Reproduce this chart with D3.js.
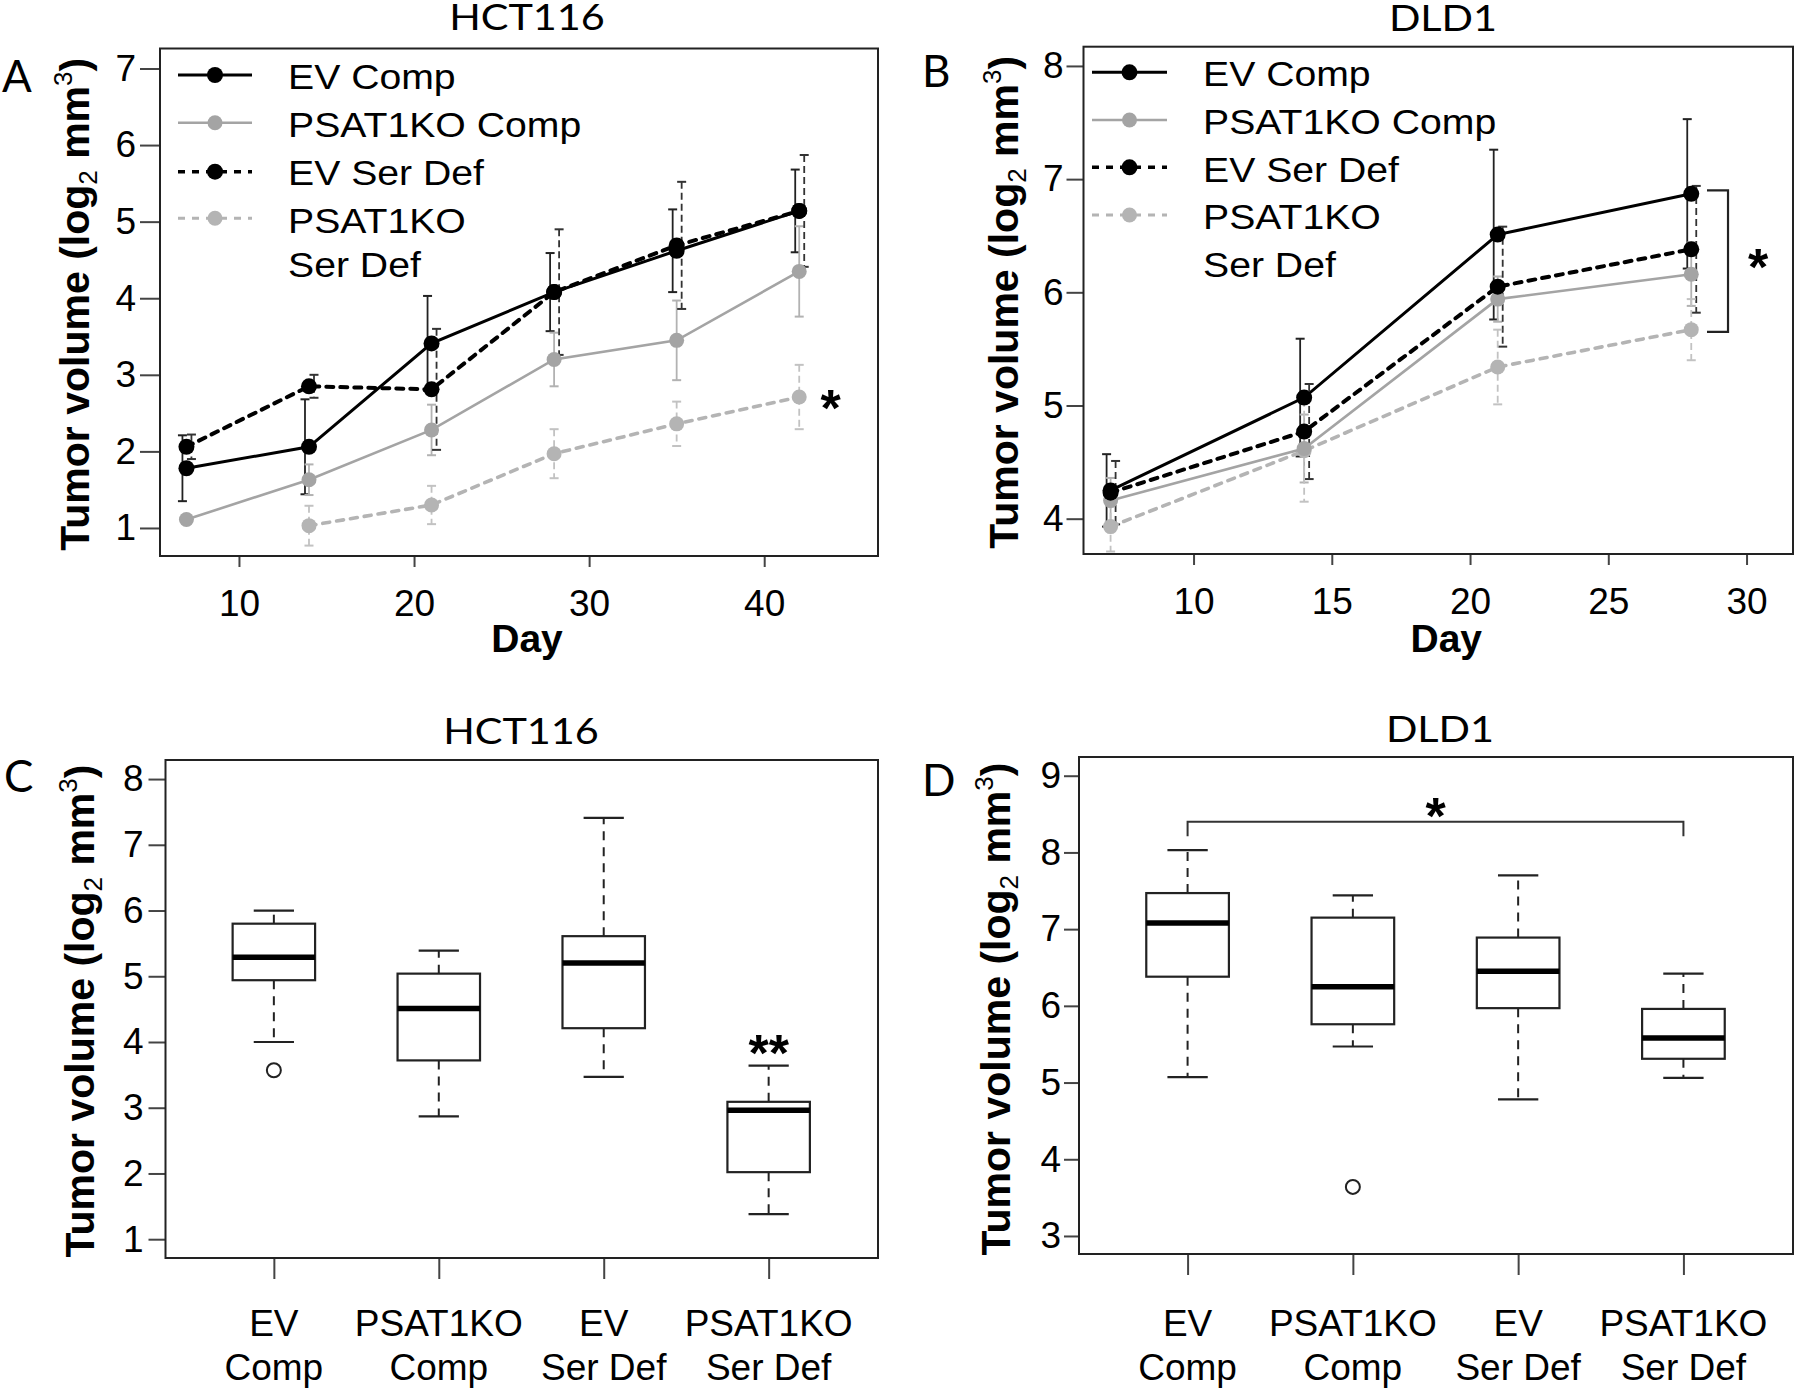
<!DOCTYPE html>
<html><head><meta charset="utf-8">
<script src="https://cdn.jsdelivr.net/npm/d3@7"></script>
<style>body{margin:0;background:#fff}svg{display:block}</style>
</head><body>
<svg id="c" width="1800" height="1394"></svg>
<script>
// ================= DATA =================
const seriesNames = ["EV Comp", "PSAT1KO Comp", "EV Ser Def", "PSAT1KO Ser Def"];
const legendLabels = [["EV Comp"], ["PSAT1KO Comp"], ["EV Ser Def"], ["PSAT1KO", "Ser Def"]];

// Panel A (HCT116) mean +/- SD, log2 mm^3
const daysA = [7, 14, 21, 28, 35, 42];
const hctEVComp     = [1.78, 2.06, 3.41, 4.08, 4.62, 5.14];
const hctEVCompSD   = [0.43, 0.62, 0.62, 0.51, 0.54, 0.54];
const hctKOComp     = [1.11, 1.63, 2.28, 3.20, 3.45, 4.35];
const hctKOCompSD   = [0.05, 0.20, 0.33, 0.35, 0.52, 0.59];
const hctEVSerDef   = [2.06, 2.85, 2.81, 4.08, 4.69, 5.14];
const hctEVSerDefSD = [0.16, 0.15, 0.79, 0.82, 0.83, 0.73];
const hctKOSerDef   = [null, 1.03, 1.30, 1.97, 2.36, 2.71];
const hctKOSerDefSD = [null, 0.26, 0.25, 0.32, 0.29, 0.42];

// Panel B (DLD1)
const daysB = [7, 14, 21, 28];
const dldEVComp     = [4.25, 5.07, 6.51, 6.87];
const dldEVCompSD   = [0.32, 0.52, 0.75, 0.66];
const dldKOComp     = [4.16, 4.62, 5.94, 6.16];
const dldKOCompSD   = [0.20, 0.30, 0.20, 0.28];
const dldEVSerDef   = [4.23, 4.77, 6.05, 6.38];
const dldEVSerDefSD = [0.28, 0.42, 0.53, 0.56];
const dldKOSerDef   = [3.93, 4.60, 5.34, 5.67];
const dldKOSerDefSD = [0.22, 0.45, 0.33, 0.27];

// Tick values
const ticksAX = [10, 20, 30, 40];
const ticksAY = [1, 2, 3, 4, 5, 6, 7];
const ticksBX = [10, 15, 20, 25, 30];
const ticksBY = [4, 5, 6, 7, 8];
const ticksCY = [1, 2, 3, 4, 5, 6, 7, 8];
const ticksDY = [3, 4, 5, 6, 7, 8, 9];

// Box plots: [lower whisker, Q1, median, Q3, upper whisker]
const boxCategories = [["EV", "Comp"], ["PSAT1KO", "Comp"], ["EV", "Ser Def"], ["PSAT1KO", "Ser Def"]];
const hctBoxStats = [[4.00, 4.94, 5.29, 5.80, 6.00], [2.87, 3.72, 4.51, 5.04, 5.39], [3.47, 4.21, 5.20, 5.61, 7.41], [1.38, 2.02, 2.96, 3.09, 3.64]];
const hctOutliers = [[3.57], [], [], []];
const dldBoxStats = [[5.07, 6.38, 7.08, 7.47, 8.03], [5.47, 5.76, 6.25, 7.15, 7.44], [4.78, 5.97, 6.45, 6.89, 7.70], [5.06, 5.31, 5.58, 5.96, 6.42]];
const dldOutliers = [[], [3.64], [], []];

// ================= STYLES =================
const FONT = "'Liberation Sans', Arial, Helvetica, sans-serif";
const TFONT = "Lato, 'Open Sans', sans-serif";
const styles = {
  "EV Comp":         {color: "#000", width: 3,   dash: null,  r: 8,   err: "#222", errDash: null,  off: -4},
  "PSAT1KO Comp":    {color: "#a4a4a4", width: 2.6, dash: null, r: 7.5, err: "#b2b2b2", errDash: null, off: 0},
  "EV Ser Def":      {color: "#000", width: 4,   dash: "7,7", r: 8,   err: "#333", errDash: "7,4", off: 5},
  "PSAT1KO Ser Def": {color: "#b4b4b4", width: 3.6, dash: "7,7", r: 7.5, err: "#c2c2c2", errDash: "7,4", off: 0}
};
const drawOrder = ["PSAT1KO Ser Def", "PSAT1KO Comp", "EV Ser Def", "EV Comp"];

const svg = d3.select("#c");

function yTitle(xBase, yCenter) {
  const t = svg.append("text")
    .attr("transform", `translate(${xBase},${yCenter}) rotate(-90)`)
    .attr("text-anchor", "middle")
    .attr("font-family", FONT).attr("font-weight", "bold").attr("font-size", 41).attr("fill", "#000");
  t.append("tspan").text("Tumor volume (log");
  t.append("tspan").attr("font-size", 26).attr("font-weight", "normal").attr("dy", 8).text("2");
  t.append("tspan").attr("dy", -8).text(" mm");
  t.append("tspan").attr("font-size", 26).attr("font-weight", "normal").attr("dy", -17).text("3");
  t.append("tspan").attr("dy", 17).text(")");
}

function plainText(x, y, str, size, opts = {}) {
  return svg.append("text").attr("x", x).attr("y", y)
    .attr("font-family", opts.family || FONT).attr("font-size", size)
    .attr("font-weight", opts.weight || "normal")
    .attr("text-anchor", opts.anchor || "start").attr("fill", "#000").text(str);
}

function titleText(cx, baseline, str) {
  return svg.append("text").attr("transform", `translate(${cx},${baseline}) scale(1.15,1)`)
    .attr("font-family", TFONT).attr("font-size", 36).attr("text-anchor", "middle")
    .attr("fill", "#000").text(str);
}

function styleAxis(g, size) {
  g.select(".domain").remove();
  g.selectAll(".tick line").attr("stroke", "#444").attr("stroke-width", 2);
  g.selectAll(".tick text").attr("font-family", FONT).attr("font-size", size).attr("fill", "#000");
}

function linePanel(p) {
  const x = d3.scaleLinear().domain(p.xDomain).range([p.left, p.right]);
  const y = d3.scaleLinear().domain(p.yDomain).range([p.bottom, p.top]);
  const g = svg.append("g");

  const ya = g.append("g").attr("transform", `translate(${p.left},0)`)
    .call(d3.axisLeft(y).tickValues(p.yTicks).tickSize(p.yTickSize).tickPadding(p.yTickPad).tickFormat(d3.format("d")));
  styleAxis(ya, 37);
  const xa = g.append("g").attr("transform", `translate(0,${p.bottom})`)
    .call(d3.axisBottom(x).tickValues(p.xTicks).tickSize(11).tickPadding(23).tickFormat(d3.format("d")));
  styleAxis(xa, 37);

  // error bars
  p.series.forEach(s => {
    const st = styles[s.name];
    s.mean.forEach((m, i) => {
      if (m == null) return;
      const cx = x(s.days[i]) + st.off;
      const y1 = y(m + s.sd[i]), y2 = y(m - s.sd[i]);
      g.append("line").attr("x1", cx).attr("x2", cx).attr("y1", y1).attr("y2", y2)
        .attr("stroke", st.err).attr("stroke-width", 1.8).attr("stroke-dasharray", st.errDash);
      [y1, y2].forEach(yy => g.append("line").attr("x1", cx - 4.5).attr("x2", cx + 4.5).attr("y1", yy).attr("y2", yy)
        .attr("stroke", st.err).attr("stroke-width", 2));
    });
  });

  // lines & points
  drawOrder.forEach(name => {
    const s = p.series.find(d => d.name === name);
    const st = styles[name];
    const pts = s.days.map((d, i) => [d, s.mean[i]]).filter(d => d[1] != null);
    g.append("path").attr("d", d3.line().x(d => x(d[0])).y(d => y(d[1]))(pts))
      .attr("fill", "none").attr("stroke", st.color).attr("stroke-width", st.width)
      .attr("stroke-dasharray", st.dash).attr("stroke-linecap", st.dash ? "round" : "butt");
    g.selectAll(null).data(pts).enter().append("circle")
      .attr("cx", d => x(d[0])).attr("cy", d => y(d[1])).attr("r", st.r).attr("fill", st.color);
  });

  // legend
  const L = p.legend;
  seriesNames.forEach((name, i) => {
    const st = styles[name];
    g.append("line").attr("x1", L.x0).attr("x2", L.x1).attr("y1", L.rows[i]).attr("y2", L.rows[i])
      .attr("stroke", st.color).attr("stroke-width", st.dash ? st.width - 0.5 : st.width)
      .attr("stroke-dasharray", st.dash);
    g.append("circle").attr("cx", (L.x0 + L.x1) / 2).attr("cy", L.rows[i]).attr("r", st.r).attr("fill", st.color);
  });
  let k = 0;
  legendLabels.forEach(lines => lines.forEach(str => {
    g.append("text").attr("transform", `translate(${L.textX},${L.baselines[k++]}) scale(1.12,1)`)
      .attr("font-family", FONT).attr("font-size", 35).attr("fill", "#000").text(str);
  }));

  g.append("rect").attr("x", p.left).attr("y", p.top).attr("width", p.right - p.left).attr("height", p.bottom - p.top)
    .attr("fill", "none").attr("stroke", "#222").attr("stroke-width", 2);

  titleText(p.titleX, p.titleY, p.title);
  plainText(p.letterX, p.letterY, p.letter, 44, {family: TFONT});
  plainText((p.left + p.right) / 2 + 8, 652, "Day", 39, {weight: "bold", anchor: "middle"});
  yTitle(p.yTitleX, (p.top + p.bottom) / 2 + 2);
  return {x, y, g};
}

function boxPanel(p) {
  const x = d3.scaleLinear().domain([0.343, 4.663]).range([p.left, p.right]);
  const y = d3.scaleLinear().domain(p.yDomain).range([p.bottom, p.top]);
  const g = svg.append("g");
  const ya = g.append("g").attr("transform", `translate(${p.left},0)`)
    .call(d3.axisLeft(y).tickValues(p.yTicks).tickSize(p.yTickSize).tickPadding(p.yTickPad).tickFormat(d3.format("d")));
  styleAxis(ya, 37);
  const xa = g.append("g").attr("transform", `translate(0,${p.bottom})`)
    .call(d3.axisBottom(x).tickValues([1, 2, 3, 4]).tickSize(21).tickFormat(""));
  styleAxis(xa, 37);

  boxCategories.forEach((lines, i) => {
    const cx = x(i + 1);
    plainText(cx, 1336, lines[0], 37, {anchor: "middle"});
    plainText(cx, 1380, lines[1], 37, {anchor: "middle"});
  });

  const hw = x(1.25) - x(1), cw = x(1.122) - x(1);
  p.stats.forEach((s, i) => {
    const cx = x(i + 1);
    const [lo, q1, med, q3, hi] = s;
    g.append("line").attr("x1", cx).attr("x2", cx).attr("y1", y(q3)).attr("y2", y(hi))
      .attr("stroke", "#222").attr("stroke-width", 2).attr("stroke-dasharray", "9,7");
    g.append("line").attr("x1", cx).attr("x2", cx).attr("y1", y(q1)).attr("y2", y(lo))
      .attr("stroke", "#222").attr("stroke-width", 2).attr("stroke-dasharray", "9,7");
    [lo, hi].forEach(v => g.append("line").attr("x1", cx - cw).attr("x2", cx + cw).attr("y1", y(v)).attr("y2", y(v))
      .attr("stroke", "#222").attr("stroke-width", 2.2));
    g.append("rect").attr("x", cx - hw).attr("y", y(q3)).attr("width", 2 * hw).attr("height", y(q1) - y(q3))
      .attr("fill", "#fff").attr("stroke", "#222").attr("stroke-width", 2.2);
    g.append("line").attr("x1", cx - hw).attr("x2", cx + hw).attr("y1", y(med)).attr("y2", y(med))
      .attr("stroke", "#000").attr("stroke-width", 5.5);
    p.outliers[i].forEach(v => g.append("circle").attr("cx", cx).attr("cy", y(v)).attr("r", 7)
      .attr("fill", "none").attr("stroke", "#222").attr("stroke-width", 2));
  });

  g.append("rect").attr("x", p.left).attr("y", p.top).attr("width", p.right - p.left).attr("height", p.bottom - p.top)
    .attr("fill", "none").attr("stroke", "#222").attr("stroke-width", 2);
  titleText(p.titleX, p.titleY, p.title);
  plainText(p.letterX, p.letterY, p.letter, 44, {family: TFONT});
  yTitle(p.yTitleX, p.yTitleC);
  return {x, y, g};
}

// ================= PANELS =================
const A = linePanel({
  left: 160, right: 878, top: 48.5, bottom: 556,
  xDomain: [5.49, 46.5], yDomain: [0.634, 7.261], xTicks: ticksAX, yTicks: ticksAY,
  yTickSize: 20, yTickPad: 4,
  series: [
    {name: "EV Comp", days: daysA, mean: hctEVComp, sd: hctEVCompSD},
    {name: "PSAT1KO Comp", days: daysA, mean: hctKOComp, sd: hctKOCompSD},
    {name: "EV Ser Def", days: daysA, mean: hctEVSerDef, sd: hctEVSerDefSD},
    {name: "PSAT1KO Ser Def", days: daysA, mean: hctKOSerDef, sd: hctKOSerDefSD}
  ],
  legend: {x0: 178, x1: 252, textX: 288, rows: [75, 122.7, 171.7, 218.3], baselines: [89.3, 137.3, 185, 232.7, 277]},
  title: "HCT116", titleX: 527, titleY: 30, letter: "A", letterX: 2, letterY: 92, yTitleX: 89
});
// significance star next to PSAT1KO Ser Def
plainText(A.x(43.8), A.y(hctKOSerDef[5]) + 29, "*", 52, {weight: "bold", anchor: "middle"});

const B = linePanel({
  left: 1083.5, right: 1793, top: 46.7, bottom: 554,
  xDomain: [6.02, 31.68], yDomain: [3.688, 8.17], xTicks: ticksBX, yTicks: ticksBY,
  yTickSize: 17, yTickPad: 3,
  series: [
    {name: "EV Comp", days: daysB, mean: dldEVComp, sd: dldEVCompSD},
    {name: "PSAT1KO Comp", days: daysB, mean: dldKOComp, sd: dldKOCompSD},
    {name: "EV Ser Def", days: daysB, mean: dldEVSerDef, sd: dldEVSerDefSD},
    {name: "PSAT1KO Ser Def", days: daysB, mean: dldKOSerDef, sd: dldKOSerDefSD}
  ],
  legend: {x0: 1092, x1: 1167, textX: 1203, rows: [72.3, 120, 167.3, 215], baselines: [86, 134, 181.7, 229.3, 276.7]},
  title: "DLD1", titleX: 1443, titleY: 31, letter: "B", letterX: 922, letterY: 87, yTitleX: 1018
});
{
  const bx = B.x(29.33), bx0 = B.x(28.57);
  const yt = B.y(dldEVComp[3] + 0.03), yb = B.y(dldKOSerDef[3] - 0.02);
  B.g.append("path").attr("d", `M${bx0},${yt}H${bx}V${yb}H${bx0}`)
    .attr("fill", "none").attr("stroke", "#222").attr("stroke-width", 2.2);
  plainText(B.x(30.42), B.y((dldEVComp[3] + dldKOSerDef[3]) / 2 + 0.05) + 29, "*", 52, {weight: "bold", anchor: "middle"});
}

const C = boxPanel({
  left: 165.5, right: 878, top: 760, bottom: 1258,
  yDomain: [0.714, 8.29], yTicks: ticksCY, yTickSize: 17, yTickPad: 5,
  stats: hctBoxStats, outliers: hctOutliers,
  title: "HCT116", titleX: 521, titleY: 744, letter: "C", letterX: 4, letterY: 792, yTitleX: 94, yTitleC: 1011
});
plainText(C.x(4), C.y(4.0) + 29, "**", 52, {weight: "bold", anchor: "middle"});

const D = boxPanel({
  left: 1079, right: 1793, top: 757, bottom: 1254,
  yDomain: [2.765, 9.244], yTicks: ticksDY, yTickSize: 15, yTickPad: 3,
  stats: dldBoxStats, outliers: dldOutliers,
  title: "DLD1", titleX: 1440, titleY: 742, letter: "D", letterX: 922, letterY: 796, yTitleX: 1010, yTitleC: 1009
});
{
  const x1 = D.x(1), x4 = D.x(4), yb = D.y(8.4), ye = D.y(8.21);
  D.g.append("path").attr("d", `M${x1},${ye}V${yb}H${x4}V${ye}`)
    .attr("fill", "none").attr("stroke", "#333").attr("stroke-width", 2);
  plainText(D.x(2.5), D.y(8.62) + 29, "*", 52, {weight: "bold", anchor: "middle"});
}
</script>
</body></html>
